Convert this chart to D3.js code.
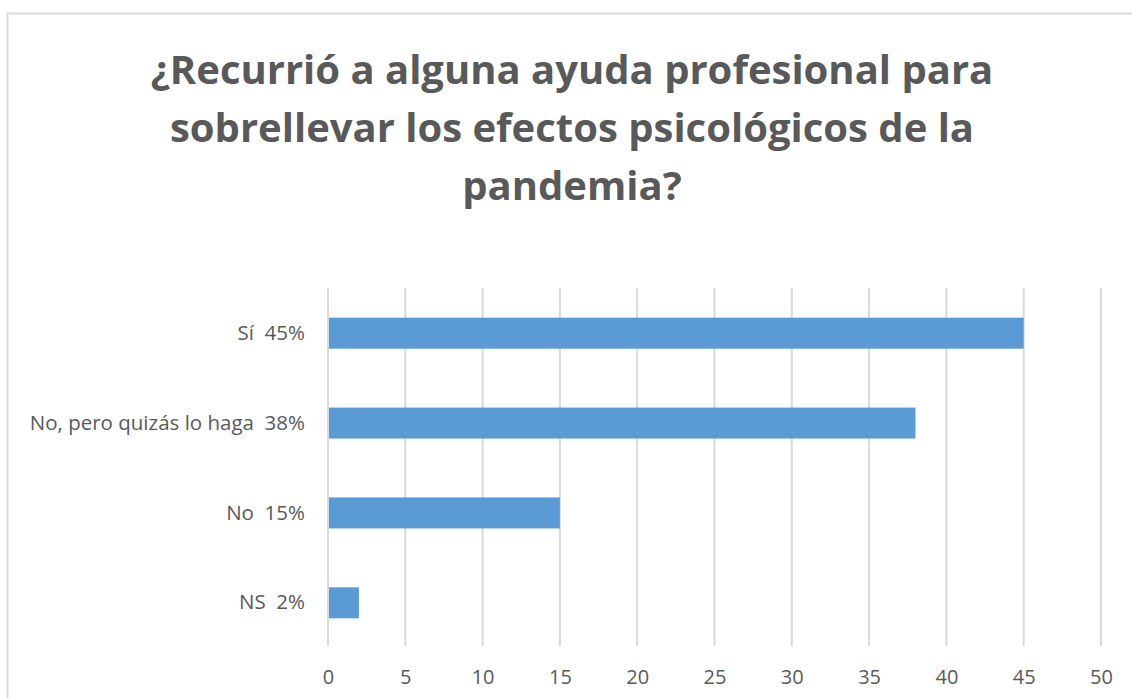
<!DOCTYPE html>
<html><head><meta charset="utf-8">
<script src="https://cdn.jsdelivr.net/npm/d3@7"></script>
<style>body{margin:0;background:#fff;}svg{display:block;}</style>
</head><body>
<svg id="c" width="1132" height="698"></svg>
<script>
const categories = ["Sí  45%", "No, pero quizás lo haga  38%", "No  15%", "NS  2%"];
const values = [45, 38, 15, 2];
const xTicks = [0, 5, 10, 15, 20, 25, 30, 35, 40, 45, 50];
const titleLines = ["¿Recurrió a alguna ayuda profesional para", "sobrellevar los efectos psicológicos de la", "pandemia?"];

const svg = d3.select("#c");
const font = "'Open Sans', 'Liberation Sans', sans-serif";
const textColor = "#595959";

// chart border
svg.append("path").attr("d", "M7.5,698 V13.5 H1132").attr("fill", "none").attr("stroke", "#d9d9d9").attr("stroke-width", 2);

const x = d3.scaleLinear().domain([0, 50]).range([328, 1101]);
const y = d3.scaleBand().domain(categories).range([288, 648]).paddingInner(0.655).paddingOuter(0.33);

// gridlines
svg.append("g").selectAll("line").data(xTicks).join("line")
  .attr("x1", d => x(d)).attr("x2", d => x(d))
  .attr("y1", 288).attr("y2", 646)
  .attr("stroke", "#d9d9d9").attr("stroke-width", 2);

// bars
svg.append("g").selectAll("rect").data(values).join("rect")
  .attr("x", x(0) + 1)
  .attr("y", (d, i) => y(categories[i]))
  .attr("width", d => x(d) - x(0) - 1)
  .attr("height", y.bandwidth())
  .attr("fill", "#5B9BD5");

// x axis tick labels
const xAxis = d3.axisBottom(x).tickValues(xTicks).tickSize(0).tickPadding(0);
const gx = svg.append("g").attr("transform", "translate(0,670)").call(xAxis);
gx.select(".domain").remove();
gx.selectAll("text").attr("font-family", font).attr("font-size", 20).attr("fill", textColor).attr("dy", "0.71em");

// y axis labels
const yAxis = d3.axisLeft(y).tickSize(0).tickPadding(0);
const gy = svg.append("g").attr("transform", "translate(305,0)").call(yAxis);
gy.select(".domain").remove();
gy.selectAll("text").attr("font-family", font).attr("font-size", 20.5).attr("fill", textColor).style("white-space", "pre");

// title
svg.append("g").selectAll("text").data(titleLines).join("text")
  .attr("x", 572).attr("y", (d, i) => 84 + i * 58)
  .attr("text-anchor", "middle")
  .attr("font-family", font).attr("font-weight", "bold").attr("font-size", 40)
  .attr("fill", textColor)
  .text(d => d);
</script>
</body></html>
